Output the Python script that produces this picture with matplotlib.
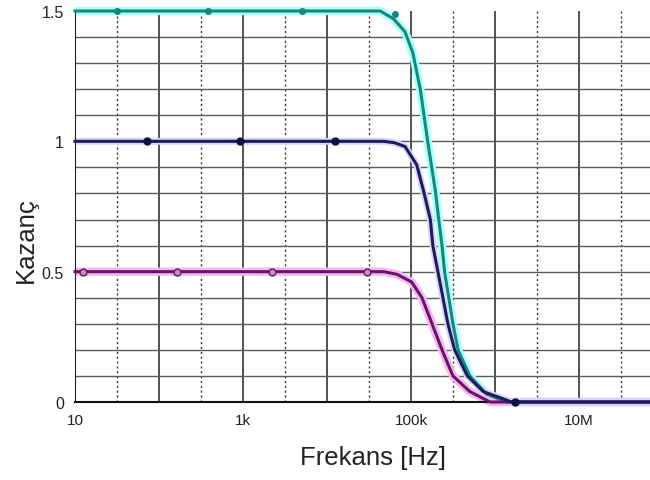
import matplotlib
matplotlib.use("Agg")
import matplotlib.pyplot as plt
import numpy as np

plt.rcParams['font.family'] = ['Liberation Sans', 'DejaVu Sans']

# ---- data ----
teal_f = [10, 43000, 62000, 85000, 105000, 129000, 158000, 195000, 214000,
          234000, 251000, 316000, 363000, 501000, 794000, 1380000, 70800000]
teal_g = [1.5, 1.5, 1.47, 1.42, 1.34, 1.2, 1.0, 0.81, 0.7,
          0.6, 0.5, 0.3, 0.2, 0.1, 0.03, 0.0, 0.0]

navy_f = [10, 47000, 63000, 85000, 117000, 141000, 170000, 182000, 209000,
          240000, 275000, 331000, 468000, 724000, 1580000, 70800000]
navy_g = [1.0, 1.0, 0.995, 0.98, 0.91, 0.81, 0.7, 0.6, 0.5,
          0.4, 0.3, 0.2, 0.1, 0.04, 0.0, 0.0]

purple_f = [10, 47000, 68000, 102000, 135000, 178000, 234000, 316000, 501000,
            871000, 70800000]
purple_g = [0.5, 0.5, 0.49, 0.46, 0.4, 0.3, 0.2, 0.1, 0.04, 0.0, 0.0]

teal_mk_f = [31.6, 380, 5100, 65000]
teal_mk_g = [1.5, 1.5, 1.5, 1.49]
navy_mk_f = [72, 910, 12600, 1740000]
navy_mk_g = [1.0, 1.0, 1.0, 0.0]
purple_mk_f = [12.6, 163, 2200, 30000]
purple_mk_g = [0.5, 0.5, 0.5, 0.5]

xtick_vals = [10, 1e3, 1e5, 1e7]
xtick_labels = ["10", "1k", "100k", "10M"]
ytick_vals = [0, 0.5, 1, 1.5]
ytick_labels = ["0", "0.5", "1", "1.5"]

# ---- figure ----
fig = plt.figure(figsize=(6.5, 4.81), dpi=100)
ax = fig.add_axes([75/650, 1 - 403/481, 1 - 75/650, (403 - 12)/481])
ax.set_xscale('log')
xmax = 10 ** (1 + (650 - 75) / 84.0)
ax.set_xlim(10, xmax)
ax.set_ylim(0, 1.5)

# grid
for d in range(1, 8):
    ax.axvline(10 ** d, color='#222222', lw=1.1, zorder=1)
    ax.axvline(10 ** (d + 0.5), color='#333333', lw=1.0, ls=(0, (1.5, 2)), zorder=1)
for yv in np.arange(1, 15):
    ax.axhline(yv * 0.1, color='#5a5a5a', lw=1.0, zorder=1)

# glows
ax.plot(teal_f, teal_g, color='#aaffff', lw=6, zorder=2, solid_capstyle='butt', clip_on=False)
ax.plot(purple_f, purple_g, color='#f4b8f0', lw=6, zorder=2, solid_capstyle='butt', clip_on=False)
ax.plot(navy_f, navy_g, color='#d8d8f4', lw=5, zorder=2, solid_capstyle='butt', clip_on=False)

# curves
ax.plot(teal_f, teal_g, color='#13897a', lw=2.2, zorder=3, clip_on=False)
ax.plot(purple_f, purple_g, color='#6a1468', lw=2.2, zorder=4, clip_on=False)
ax.plot(navy_f, navy_g, color='#1b1b5e', lw=2.2, zorder=5, clip_on=False)

ax.plot(teal_mk_f, teal_mk_g, 'o', color='#13897a', ms=4, zorder=6, clip_on=False)
ax.plot(navy_mk_f, navy_mk_g, 'o', color='#111144', ms=5, zorder=6, clip_on=False)
ax.plot(purple_mk_f, purple_mk_g, 'o', color='#6a1468', mfc='#c090c0', ms=5, zorder=6, clip_on=False)

ax.set_xticks(xtick_vals)
ax.set_xticklabels(xtick_labels, fontsize=11)
ax.xaxis.set_minor_locator(matplotlib.ticker.NullLocator())
ax.set_yticks(ytick_vals)
ax.set_yticklabels(ytick_labels, fontsize=11.5)
ax.tick_params(axis='both', length=0, pad=8, colors='#222222')

for s in ['top', 'right']:
    ax.spines[s].set_visible(False)
ax.spines['left'].set_color('#222222')
ax.spines['bottom'].set_color('#111111')
ax.spines['bottom'].set_linewidth(1.5)

fig.text(373/650, 1 - 458/481, "Frekans [Hz]", fontsize=18.5, ha='center', va='center', color='#222222')
fig.text(26/650, 1 - 240/481, "Kazanç", fontsize=18.5, ha='center', va='center', rotation=90, color='#222222')

fig.savefig("out.png", dpi=100)
